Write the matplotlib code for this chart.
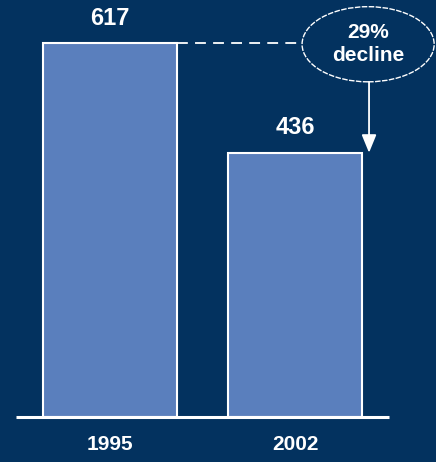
import matplotlib
matplotlib.use("Agg")
import matplotlib.pyplot as plt
from matplotlib.patches import Ellipse

years = ["1995", "2002"]
values = [617, 436]
decline_label = "29%\ndecline"

bg = "#03325f"
bar_color = "#5a7fbd"
plt.rcParams["font.family"] = ["Liberation Sans", "DejaVu Sans"]
plt.rcParams["font.weight"] = "bold"

fig = plt.figure(figsize=(4.36, 4.62), dpi=100, facecolor=bg)
ax = fig.add_axes([0, 0, 1, 1])
ax.set_facecolor(bg)

x = [0, 1]
ax.bar(x, values, width=0.724, color=bar_color, edgecolor="white", linewidth=1.5, zorder=2)
ax.set_xlim(-0.595, 1.762)
ax.set_ylim(-74.2, 688)
ax.axis("off")

# baseline
ax.plot([-0.508, 1.508], [0, 0], color="white", lw=2.2, solid_capstyle="butt", zorder=3)

for xi, v, yr in zip(x, values, years):
    ax.annotate(str(v), (xi, v), xytext=(0, 25), textcoords="offset pixels",
                ha="center", va="center", color="white", fontsize=17, fontweight="bold")
    ax.annotate(yr, (xi, 0), xytext=(0, -27), textcoords="offset pixels",
                ha="center", va="center", color="white", fontsize=15, fontweight="bold")

# callout ellipse
ex, ey, ew, eh = 1.395, 615, 0.714, 124
ax.add_patch(Ellipse((ex, ey), ew, eh, facecolor="none", edgecolor="white",
                     lw=1, linestyle=(0, (4, 1)), zorder=4))
ax.text(ex, ey, decline_label, ha="center", va="center", color="white",
        fontsize=15, fontweight="bold", linespacing=1.3, zorder=5)

# dashed guide from first bar top to ellipse
ax.plot([0.362, ex - ew / 2], [values[0], values[0]], color="white", lw=1.3,
        linestyle=(0, (6, 4)), zorder=3)

# arrow down to second bar
ax.annotate("", xy=(1.40, values[1]), xytext=(1.40, ey - eh / 2),
            arrowprops=dict(arrowstyle="-|>,head_length=1.1,head_width=0.45",
                            color="white", lw=1.3, shrinkA=0, shrinkB=0), zorder=5)

fig.savefig("out.png", dpi=100, facecolor=bg)
